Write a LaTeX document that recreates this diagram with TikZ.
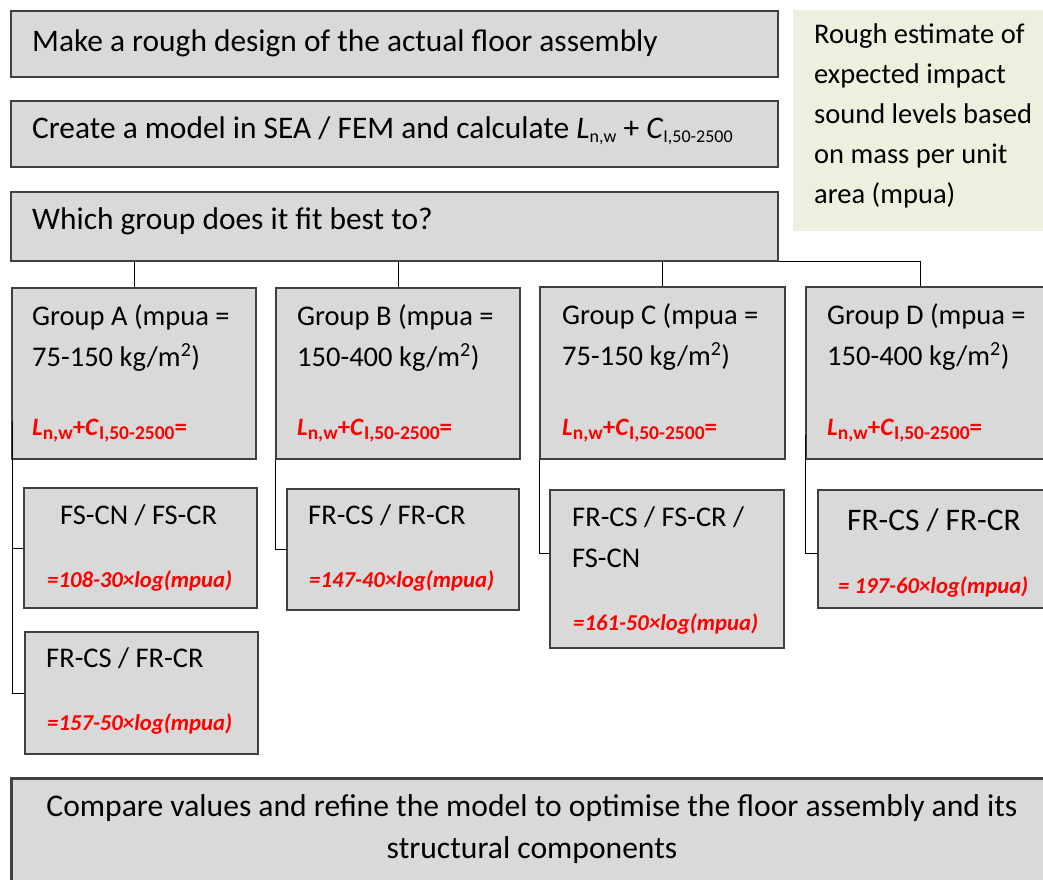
\documentclass[tikz,border=0pt]{standalone}
\usepackage{fontspec}
\setmainfont{Carlito}
\usetikzlibrary{calc}
\definecolor{bx}{HTML}{D9D9D9}
\definecolor{ed}{HTML}{404040}
\definecolor{gn}{HTML}{EBF1DE}
\definecolor{rd}{HTML}{FF0000}
\newcommand{\sbs}[1]{\raisebox{-4pt}{\fontsize{19.5}{19.5}\selectfont\bfseries\upshape #1}}
\newcommand{\lnc}{\textit{L}\sbs{n,w}+\textit{C}\sbs{I,50-2500}=}
\newcommand{\sml}[1]{\raisebox{-4pt}{\fontsize{18}{18}\selectfont #1}}

\begin{document}
\begin{tikzpicture}[x=1pt,y=-1pt]
  \tikzstyle{every node}=[inner sep=0pt]
  \tikzstyle{box}=[draw=ed,fill=bx,line width=1.5pt,anchor=north west]
  \tikzstyle{txt}=[anchor=base west,font=\fontsize{28.5}{41}\selectfont]
  \tikzstyle{big}=[anchor=base west,font=\fontsize{31.4}{36}\selectfont]
  \tikzstyle{red}=[anchor=base west,text=rd,font=\fontsize{22.7}{26}\selectfont\bfseries\itshape]
  \useasboundingbox (0,0) rectangle (1043,879);
  % top row
  \node[box,minimum width=767,minimum height=66] (mk) at (10,10) {};
  \node[box,minimum width=767,minimum height=66] (sea) at (10,100) {};
  \node[box,minimum width=767,minimum height=69] (wg) at (10,191) {};
  \node[fill=gn,minimum width=255,minimum height=221,anchor=north west] (est) at (793,10) {};
  \node[big] at (32,51) {Make a rough design of the actual floor assembly};
  \node[big] at (32,138) {Create a model in SEA / FEM and calculate \textit{L}\sml{n,w} + \textit{C}\sml{I,50-2500}};
  \node[big] at (32,229) {Which group does it fit best to?};
  \node[txt,align=left,font=\fontsize{28.5}{40}\selectfont] at (814,203) {Rough estimate of\\expected impact\\sound levels based\\on mass per unit\\area (mpua)};
  % groups
  \node[box,minimum width=244,minimum height=171] (ga) at (11,287) {};
  \node[box,minimum width=244,minimum height=171] (gb) at (275,287) {};
  \node[box,minimum width=245,minimum height=172] (gc) at (539,286) {};
  \node[box,minimum width=245,minimum height=172] (gd) at (805,286) {};
  \node[txt,align=left] at (32,366) {Group A (mpua =\\75-150 kg/m\textsuperscript{2})};
  \node[txt,align=left] at (297,366) {Group B (mpua =\\150-400 kg/m\textsuperscript{2})};
  \node[txt,align=left] at (562,365) {Group C (mpua =\\75-150 kg/m\textsuperscript{2})};
  \node[txt,align=left] at (827,365) {Group D (mpua =\\150-400 kg/m\textsuperscript{2})};
  \foreach \x in {32,297,562,827}
    \node[red,font=\fontsize{25}{28}\selectfont\bfseries] at (\x,435) {\lnc};
  % sub boxes
  \node[box,minimum width=233,minimum height=120] (a1) at (23,487) {};
  \node[box,minimum width=233,minimum height=122] (a2) at (24,631) {};
  \node[box,minimum width=232,minimum height=121] (b1) at (286,488) {};
  \node[box,minimum width=234,minimum height=158] (c1) at (549,489) {};
  \node[box,minimum width=240,minimum height=118] (d1) at (817,489) {};
  \node[txt] at (60,524) {FS-CN / FS-CR};
  \node[red] at (47,587) {=108-30×log(mpua)};
  \node[txt] at (46,667) {FR-CS / FR-CR};
  \node[red] at (47,730) {=157-50×log(mpua)};
  \node[txt] at (308,524) {FR-CS / FR-CR};
  \node[red] at (309,587) {=147-40×log(mpua)};
  \node[txt,align=left] at (572,567) {FR-CS / FS-CR /\\FS-CN};
  \node[red] at (573,630) {=161-50×log(mpua)};
  \node[big] at (847,530) {FR-CS / FR-CR};
  \begin{scope}
    \clip (d1.north west) rectangle (1043,597);
    \node[red] at (838,593) {= 197-60×log(mpua)};
  \end{scope}
  % connectors
  \draw (wg.south east) -| ($(gd.north west)+(115,0)$);
  \foreach \g in {ga,gb,gc}
    \draw (wg.south -| \g.north) -- (\g.north);
  \coordinate (ax) at ($(ga.south west)+(1,-38)$);
  \draw (ax) |- (a2.west);
  \draw (ax |- a1.west) -- (a1.west);
  \draw (gb.south west) |- (b1.west);
  \draw (gc.south west) |- ($(c1.north west)+(0,64)$);
  \draw ($(gd.south west)+(0,-25)$) |- ($(d1.north west)+(0,64)$);
  % last step
  \node[box,draw=ed,line width=2.5pt,minimum width=1045,minimum height=110] (cmp) at (10,777) {};
  \node[anchor=base,align=center,font=\fontsize{31.6}{42}\selectfont] at (532,858) {Compare values and refine the model to optimise the floor assembly and its\\structural components};
\end{tikzpicture}
\end{document}
